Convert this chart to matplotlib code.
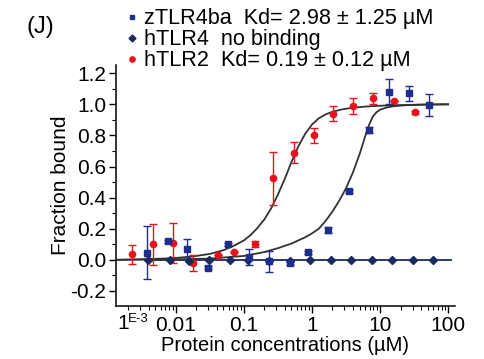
import numpy as np
import matplotlib
matplotlib.use("Agg")
import matplotlib.pyplot as plt
from matplotlib.lines import Line2D
from matplotlib.ticker import FixedLocator, FixedFormatter, LogLocator, NullFormatter, MultipleLocator

plt.rcParams['font.family'] = ['Liberation Sans', 'DejaVu Sans']

# zTLR4ba (squares)
z_conc = [0.0038, 0.0076, 0.0148, 0.0295, 0.058, 0.118, 0.235, 0.47, 0.87, 1.74, 3.5, 6.9, 13.5, 26.5, 52.5]
z_val = [0.045, 0.12, 0.07, -0.05, 0.10, 0.02, -0.01, -0.02, 0.05, 0.19, 0.44, 0.835, 1.08, 1.07, 0.995]
z_err = [0.17, 0.01, 0.066, 0.01, 0.01, 0.05, 0.07, 0.01, 0.01, 0.02, 0.01, 0.02, 0.08, 0.05, 0.07]

# hTLR4 (diamonds)
h4_conc = [0.0039, 0.0081, 0.0154, 0.031, 0.062, 0.116, 0.234, 0.47, 0.94, 1.88, 3.75, 7.5, 15, 30, 60]
h4_val = [0.0, 0.0, -0.005, 0.0, 0.0, 0.0, -0.005, -0.005, 0.0, 0.0, 0.0, 0.0, 0.0, 0.0, 0.0]

# hTLR2 (circles)
h2_conc = [0.0023, 0.0047, 0.0091, 0.0178, 0.041, 0.072, 0.145, 0.27, 0.54, 1.07, 2.04, 4.07, 7.9, 16.2, 32.4]
h2_val = [0.035, 0.10, 0.11, -0.02, 0.03, 0.05, 0.10, 0.525, 0.69, 0.80, 0.94, 0.99, 1.04, 1.02, 0.95]
h2_err = [0.06, 0.13, 0.13, 0.05, 0.0, 0.0, 0.02, 0.17, 0.07, 0.05, 0.05, 0.05, 0.035, 0.0, 0.01]

# fitted curves, points
fit2_conc = [0.00132, 0.00316, 0.00631, 0.01, 0.0178, 0.0316, 0.0501, 0.0708, 0.1, 0.126,
             0.158, 0.2, 0.251, 0.316, 0.398, 0.501, 0.631, 0.794, 1.0, 1.259, 1.585,
             1.995, 2.818, 3.981, 6.31, 10, 19.95, 39.8, 100]
fit2_val = [0.0, 0.004, 0.008, 0.012, 0.022, 0.038, 0.062, 0.09, 0.125, 0.16,
            0.205, 0.26, 0.33, 0.42, 0.52, 0.63, 0.73, 0.81, 0.87, 0.91, 0.935,
            0.952, 0.968, 0.978, 0.986, 0.991, 0.995, 0.998, 1.0]
fitz_conc = [0.00132, 0.01, 0.0316, 0.1, 0.2, 0.316, 0.501, 0.794, 1.0, 1.259, 1.585,
             1.995, 2.512, 3.162, 3.981, 5.012, 5.623, 6.31, 7.079, 7.943, 8.913, 10,
             12.59, 15.85, 25.12, 50.12, 100]
fitz_val = [0.0, 0.003, 0.008, 0.025, 0.05, 0.075, 0.105, 0.145, 0.17, 0.20, 0.25,
            0.31, 0.38, 0.46, 0.56, 0.68, 0.75, 0.82, 0.88, 0.925, 0.95, 0.965,
            0.98, 0.988, 0.995, 0.999, 1.0]
fit4_conc = [0.0035, 110]
fit4_val = [0.0, 0.0]

navy = '#1f2d8c'
dnavy = '#1a2a5e'
red = '#e8121c'

fig = plt.figure(figsize=(4.85, 3.59), dpi=100)
ax = fig.add_axes([0.239, 0.148, 0.699, 0.671])

ax.plot(fit4_conc, fit4_val, color=dnavy, lw=1.3, zorder=2)
ax.plot(fit2_conc, fit2_val, color='#333333', lw=1.3, zorder=2)
ax.plot(fitz_conc, fitz_val, color='#333333', lw=1.3, zorder=2)

ax.errorbar(h2_conc, h2_val, yerr=h2_err, fmt='o', color=red, ms=4.5,
            elinewidth=1.0, capsize=3, capthick=1.0, zorder=3)
ax.errorbar(z_conc, z_val, yerr=z_err, fmt='s', color=navy, ms=4.2,
            elinewidth=1.0, capsize=3, capthick=1.0, zorder=4)
ax.plot(h4_conc, h4_val, 'D', color=dnavy, ms=4, zorder=4)

ax.set_xscale('log')
ax.set_xlim(10**-2.88, 10**2.1)
ax.set_ylim(-0.296, 1.253)

ax.xaxis.set_major_locator(FixedLocator([0.01, 0.1, 1, 10, 100]))
ax.xaxis.set_major_formatter(FixedFormatter(['0.01', '0.1', '1', '10', '100']))
ax.xaxis.set_minor_locator(LogLocator(base=10, subs=np.arange(2, 10)))
ax.xaxis.set_minor_formatter(NullFormatter())

yt = [-0.2, 0.0, 0.2, 0.4, 0.6, 0.8, 1.0, 1.2]
ax.yaxis.set_major_locator(FixedLocator(yt))
ax.yaxis.set_major_formatter(FixedFormatter(['-0.2', '0.0', '0.2', '0.4', '0.6', '0.8', '1.0', '1.2']))
ax.yaxis.set_minor_locator(MultipleLocator(0.1))

ax.tick_params(axis='both', which='major', labelsize=15, length=5, width=1, pad=2)
ax.tick_params(axis='both', which='minor', length=3, width=0.8)
for s in ['top', 'right']:
    ax.spines[s].set_visible(False)
for s in ['left', 'bottom']:
    ax.spines[s].set_linewidth(1.1)

ax.text(0.003, -0.035, '1', transform=ax.transAxes, ha='left', va='top', fontsize=15)
ax.text(0.036, -0.03, 'E-3', transform=ax.transAxes, ha='left', va='top', fontsize=9.5)

ax.set_xlabel('Protein concentrations (µM)', fontsize=14.5, labelpad=1)
ax.set_ylabel('Fraction bound', fontsize=15, labelpad=0)

fig.text(0.055, 0.925, '(J)', fontsize=17, ha='left', va='center')

handles = [
    Line2D([], [], ls='none', marker='s', color=navy, ms=3.5),
    Line2D([], [], ls='none', marker='D', color=dnavy, ms=3.5),
    Line2D([], [], ls='none', marker='o', color=red, ms=3.8),
]
labels = ['zTLR4ba  Kd= 2.98 ± 1.25 µM', 'hTLR4  no binding', 'hTLR2  Kd= 0.19 ± 0.12 µM']
fig.legend(handles, labels, loc='upper left', bbox_to_anchor=(0.225, 1.025),
           frameon=False, fontsize=15.6, handlelength=0.5, handletextpad=0.3,
           labelspacing=0.0, borderpad=0.3)

fig.savefig('out.png', dpi=100)
